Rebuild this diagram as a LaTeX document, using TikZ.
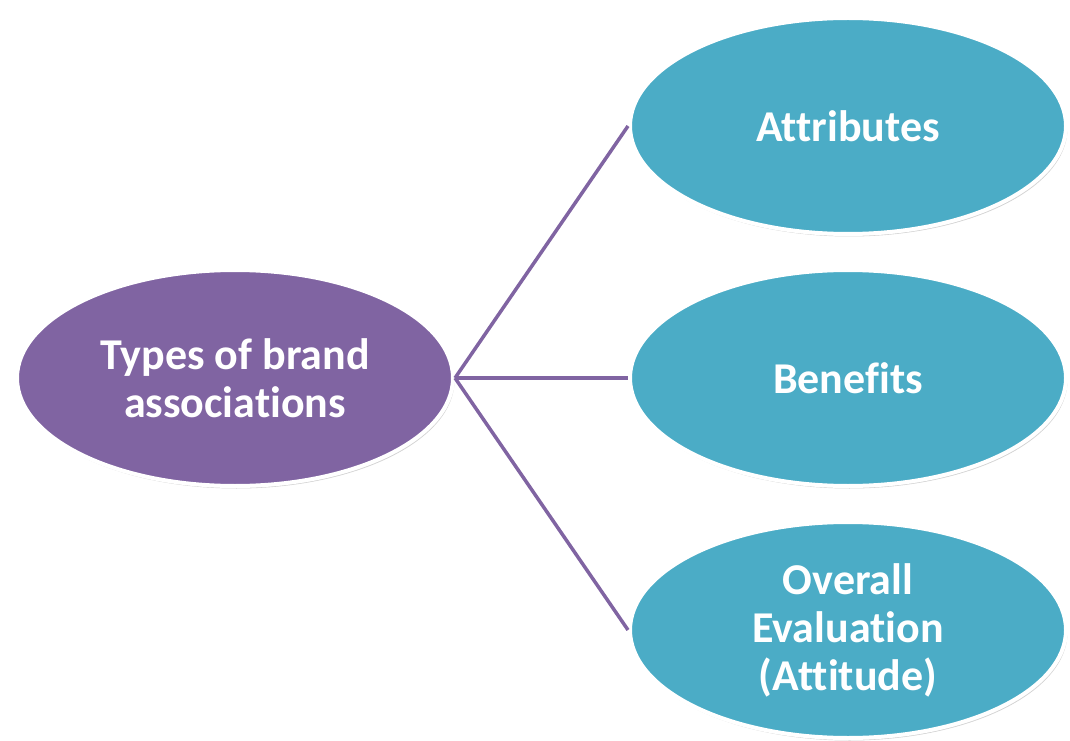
\documentclass[tikz,border=0pt]{standalone}
\usepackage{fontspec}
\setmainfont[Ligatures=NoCommon]{Carlito}
\usetikzlibrary{shapes.geometric}
\usetikzlibrary{shadows}
\definecolor{office-purple}{HTML}{8064A2}
\definecolor{office-teal}{HTML}{4BACC6}
\colorlet{hub}{office-purple}
\colorlet{leaf}{office-teal}
\tikzset{
  bubble/.style={ellipse, draw=white, line width=4pt,
    minimum width=436pt, minimum height=216pt,
    text=white, align=center, font=\fontsize{44}{48}\selectfont\bfseries,
    drop shadow={shadow xshift=1.5pt, shadow yshift=-2.5pt, opacity=0.35}},
  link/.style={draw=hub, line width=3.5pt}
}

\begin{document}
\begin{tikzpicture}[x=1pt, y=1pt]
\useasboundingbox (0,0) rectangle (1070,740);
% centre bubble
\node[bubble, fill=hub] (types) at (235,362) {Types of brand\\associations};
% the three kinds
\node[bubble, fill=leaf] (attributes) at (848,614) {Attributes};
\node[bubble, fill=leaf] (benefits) at (848,362) {Benefits};
\node[bubble, fill=leaf] (overall) at (848,110) {Overall\\Evaluation\\(Attitude)};
% links
\foreach \kind in {attributes,benefits,overall} {
  \draw[link] (types.east) -- (\kind.west);
}
\end{tikzpicture}
\end{document}
